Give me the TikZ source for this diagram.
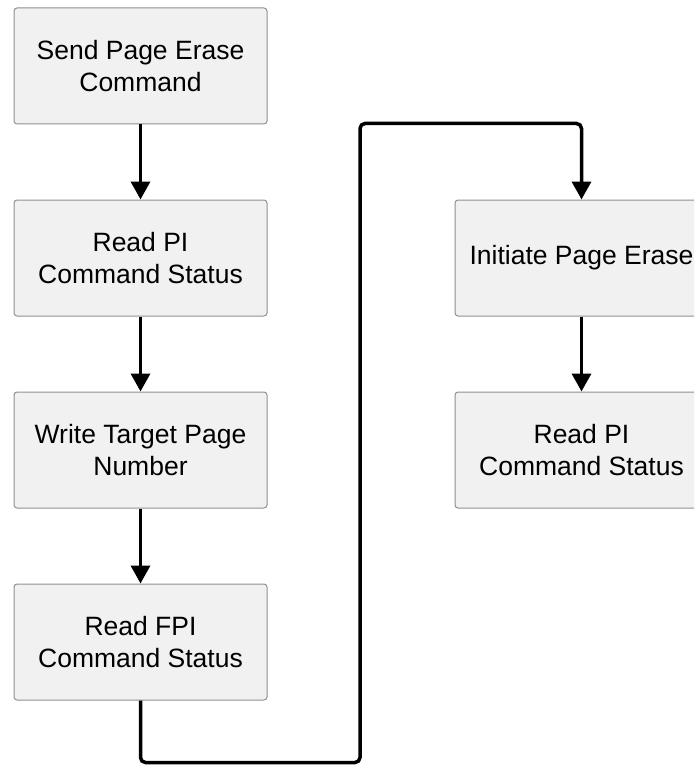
\documentclass[tikz,border=0pt]{standalone}
\usepackage{fontspec}
\setmainfont{Liberation Sans}
\usetikzlibrary{arrows.meta}
\definecolor{boxfill}{HTML}{F1F1F1}
\definecolor{boxline}{HTML}{909090}
\begin{document}
\begin{tikzpicture}[x=1pt,y=-1pt,
  stepbox/.style={draw=boxline,fill=boxfill,line width=1pt,rounded corners=3pt,
    minimum width=253pt,minimum height=116pt,inner sep=0pt,align=center,
    font=\fontsize{26.5}{32}\selectfont},
  conn/.style={line width=3.5pt,-{Triangle[width=19pt,length=18pt]},rounded corners=5pt}]
\useasboundingbox (0,0) rectangle (694,765);
\clip (0,0) rectangle (694,765);
\node[stepbox] (b1) at (140.5,66) {Send Page Erase\\Command};
\node[stepbox] (b2) at (140.5,258) {Read PI\\Command Status};
\node[stepbox] (b3) at (140.5,450) {Write Target Page\\Number};
\node[stepbox] (b4) at (140.5,642) {Read FPI\\Command Status};
\node[stepbox] (b5) at (581.5,258) {Initiate Page Erase};
\node[stepbox] (b6) at (581.5,450) {Read PI\\Command Status};
\coordinate (c1) at (140.5,762.5);
\coordinate (c2) at (360,762.5);
\coordinate (c3) at (360,123.5);
\coordinate (c4) at (581.5,123.5);
\draw[conn] (b1) -- (b2);
\draw[conn] (b2) -- (b3);
\draw[conn] (b3) -- (b4);
\draw[conn] (b5) -- (b6);
\draw[conn] (b4.south) -- (c1) -- (c2) -- (c3) -- (c4) -- (b5.north);
\end{tikzpicture}
\end{document}
